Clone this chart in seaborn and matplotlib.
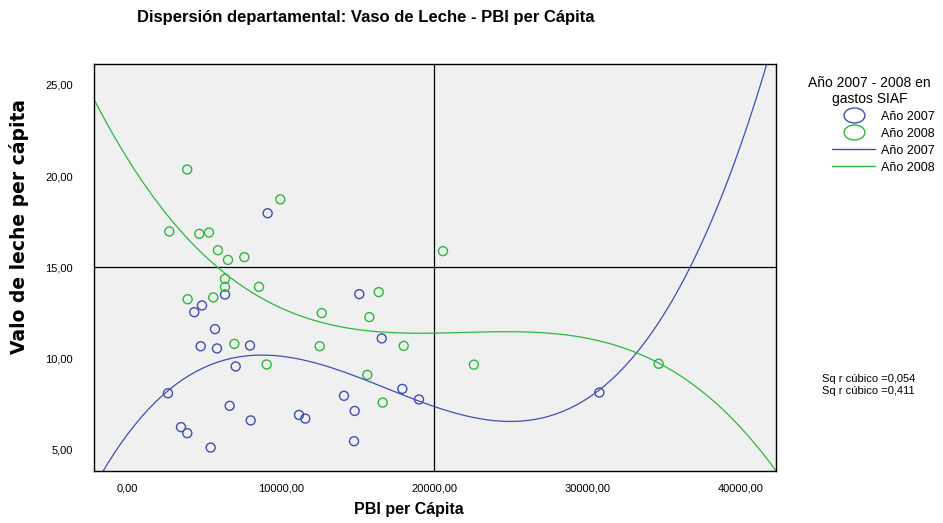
import numpy as np
import pandas as pd
import matplotlib
matplotlib.use("Agg")
import matplotlib.pyplot as plt
from matplotlib.path import Path
from matplotlib.lines import Line2D
import seaborn as sns

# data
pbi_2007 = [9150, 6370, 4870, 4370, 15125, 5717, 16584, 4785, 5848, 7999, 7066, 2653, 17927,
            14126, 19015, 6675, 14824, 11193, 11604, 8044, 3501, 3911, 5437, 14779, 30770]
leche_2007 = [17.96, 13.50, 12.90, 12.53, 13.52, 11.60, 11.09, 10.66, 10.54, 10.70, 9.55, 8.08, 8.32,
              7.94, 7.74, 7.39, 7.11, 6.89, 6.69, 6.59, 6.22, 5.89, 5.10, 5.45, 8.12]
pbi_2008 = [3905, 9975, 2740, 4695, 5325, 5910, 6565, 7630, 20580, 6370, 6370, 8585, 3935,
            5605, 16390, 12673, 15777, 6977, 12542, 18018, 9087, 15645, 16649, 22594, 34636]
leche_2008 = [20.36, 18.72, 16.96, 16.83, 16.90, 15.93, 15.40, 15.55, 15.88, 14.36, 13.92, 13.92, 13.24,
              13.34, 13.63, 12.48, 12.26, 10.79, 10.66, 10.68, 9.66, 9.09, 7.57, 9.65, 9.70]

years = ["Año 2007", "Año 2008"]
r2_labels = ["Sq r cúbico =0,054", "Sq r cúbico =0,411"]
xticks = [0, 10000, 20000, 30000, 40000]
xtick_labels = ["0,00", "10000,00", "20000,00", "30000,00", "40000,00"]
yticks = [5, 10, 15, 20, 25]
ytick_labels = ["5,00", "10,00", "15,00", "20,00", "25,00"]

df = pd.DataFrame({
    "pbi": pbi_2007 + pbi_2008,
    "leche": leche_2007 + leche_2008,
    "year": [years[0]] * len(pbi_2007) + [years[1]] * len(pbi_2008),
})

colors = {"Año 2007": "#3f4fb4", "Año 2008": "#2cb83f"}

sns.set_style("white")
plt.rcParams["font.family"] = ["Liberation Sans", "DejaVu Sans"]
plt.rcParams.update({"text.color": "black", "axes.labelcolor": "black",
                     "xtick.color": "black", "ytick.color": "black"})

# slightly flattened circle like the SPSS markers
circ = Path.unit_circle()
ellipse = Path(circ.vertices * np.array([1.0, 0.72]), circ.codes)

fig = plt.figure(figsize=(9.43, 5.23), dpi=100)
ax = fig.add_axes([0.0995, 0.100, 0.7235, 0.7776])
ax.set_facecolor("#f0f0f0")
ax.set_xlim(-2180, 42290)
ax.set_ylim(3.83, 26.15)

for yr in years:
    sub = df[df["year"] == yr]
    sns.regplot(data=sub, x="pbi", y="leche", order=3, ci=None, truncate=False, ax=ax,
                color=colors[yr],
                scatter_kws=dict(marker=ellipse, s=42, facecolors="none",
                                 edgecolors=colors[yr], linewidths=1.0, alpha=1),
                line_kws=dict(lw=0.9, alpha=1))

ax.axhline(15, color="black", lw=0.9, zorder=1)
ax.axvline(20000, color="black", lw=0.9, zorder=1)
ax.set_xlim(-2180, 42290)
ax.set_ylim(3.83, 26.15)

ax.set_xticks(xticks)
ax.set_xticklabels(xtick_labels, fontsize=8)
ax.set_yticks(yticks)
ax.set_yticklabels(ytick_labels, fontsize=8)
ax.tick_params(direction="out", length=8, width=1, color="black")
ax.tick_params(axis="x", pad=1.5)
ax.tick_params(axis="y", pad=7)
for sp in ax.spines.values():
    sp.set_color("black")
    sp.set_linewidth(1)

ax.set_xlabel("PBI per Cápita", fontsize=11.5, fontweight="bold")
ax.xaxis.set_label_coords(0.462, -0.077)
ax.set_ylabel("Valo de leche per cápita", fontsize=13.5, fontweight="bold", family="DejaVu Sans")
ax.yaxis.set_label_coords(-0.095, 0.60)

fig.text(0.388, 0.967, "Dispersión departamental: Vaso de Leche - PBI per Cápita",
         ha="center", va="center", fontsize=12, fontweight="bold")

handles = [
    Line2D([], [], ls="none", marker=ellipse, ms=15, mfc="none", mec=colors[years[0]], mew=1),
    Line2D([], [], ls="none", marker=ellipse, ms=15, mfc="none", mec=colors[years[1]], mew=1),
    Line2D([], [], color=colors[years[0]], lw=1),
    Line2D([], [], color=colors[years[1]], lw=1),
]
leg = fig.legend(handles, years + years, title="Año 2007 - 2008 en\ngastos SIAF",
                 loc="upper center", bbox_to_anchor=(0.937, 0.865), frameon=False,
                 fontsize=9, title_fontsize=10, handlelength=3.4, labelspacing=0.4,
                 handletextpad=0.5, borderaxespad=0, alignment="center")
leg.get_title().set_multialignment("center")
leg.get_title().set_position((-14, 0))

fig.text(0.872, 0.263, r2_labels[0] + "\n" + r2_labels[1], fontsize=8, va="center",
         linespacing=1.25)

fig.savefig("out.png", dpi=100)
